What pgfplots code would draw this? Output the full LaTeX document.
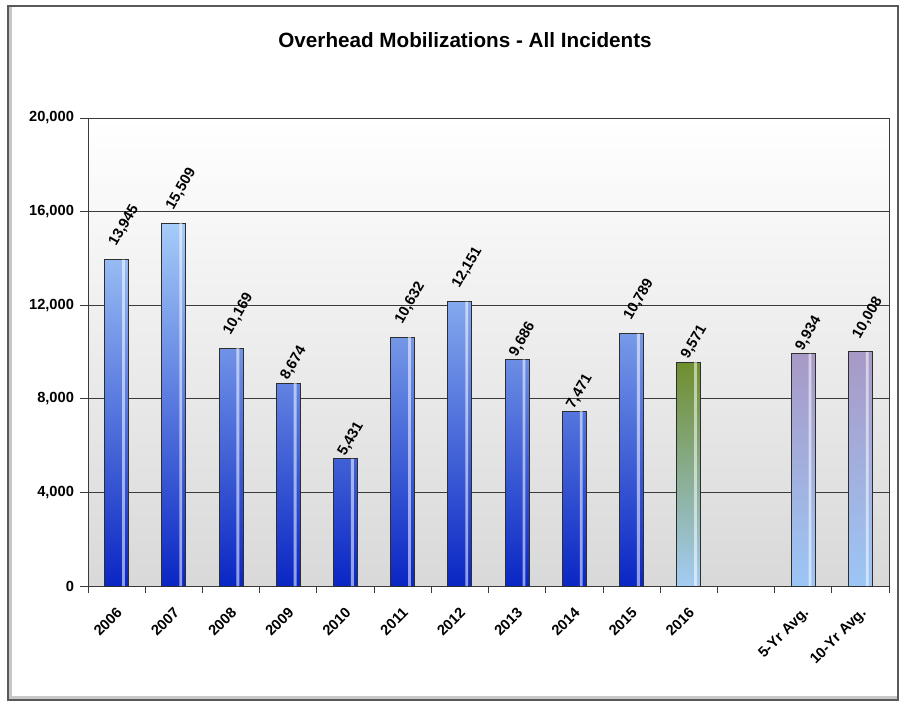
\documentclass[border=0pt]{standalone}
\usepackage{pgfplots}
\pgfplotsset{compat=1.18}
\usepackage{fontspec}
\setmainfont{Liberation Sans}
\definecolor{gridc}{HTML}{3A3A3A}
\definecolor{btop}{HTML}{A6CCF8}
\definecolor{bmid}{HTML}{3F6FE0}
\definecolor{bbot}{HTML}{0A26C4}
\definecolor{gtop}{HTML}{6F8E2E}
\definecolor{gbot}{HTML}{A4CCF4}
\definecolor{ptop}{HTML}{A899C6}
\definecolor{pbot}{HTML}{9CC6F6}
\definecolor{edge}{HTML}{2E2E2E}
\pgfplotstableread{
x y
0 13945
1 15509
2 10169
3 8674
4 5431
5 10632
6 12151
7 9686
8 7471
9 10789
}\years
\pgfplotstableread{
x y
10 9571
}\cur
\pgfplotstableread{
x y
12 9934
13 10008
}\avgs
\pgfplotsset{
  lbl/.style={draw=none, fill=none, bar width=0.42, bar shift=0pt,
    visualization depends on={rawy\as\rawy},
    nodes near coords={\pgfmathprintnumber[fixed,precision=0,1000 sep={,},assume math mode=true]{\pgfplotspointmeta}},
    every node near coord/.append style={font=\bfseries\fontsize{11}{12}\selectfont,
      anchor=west, inner sep=1pt, xshift=-3.5pt,
      yshift={ifthenelse(\rawy>=10000,10,2)*1pt}, rotate=60}},
}
\begin{document}
\begin{tikzpicture}
\useasboundingbox (0,0) rectangle (674.25pt,527.25pt);
\fill[black!22] (6pt,2.25pt) rectangle (673.5pt,522.75pt);
\fill[white] (9pt,5pt) rectangle (673.5pt,522.75pt);
\draw[black!65, line width=0.8pt] (6pt,2.25pt) rectangle (673.5pt,522.75pt);
\node[font=\bfseries\fontsize{15.5}{18}\selectfont] at (348.75pt,497.25pt) {Overhead Mobilizations - All Incidents};
\begin{axis}[
  at={(66pt,87.75pt)}, anchor=south west,
  scale only axis, width=600.75pt, height=351pt,
  ymin=0, ymax=20000, ytick={0,4000,...,20000},
  scaled y ticks=false,
  xmin=-0.5, xmax=13.5,
  xtick={0,1,2,3,4,5,6,7,8,9,10,12,13},
  xticklabels={2006,2007,2008,2009,2010,2011,2012,2013,2014,2015,2016,5-Yr Avg.,10-Yr Avg.},
  minor xtick={-0.5,0.5,...,13.5},
  tick pos=left, tick align=outside,
  major x tick style={draw=none},
  minor x tick style={draw=gridc, line width=0.6pt},
  y tick style={draw=gridc, line width=0.6pt},
  major tick length=6pt, minor tick length=5pt,
  ymajorgrids, major grid style={draw=gridc, line width=0.6pt},
  axis line style={draw=gridc, line width=0.7pt},
  axis background/.style={top color=white, bottom color=black!15},
  /pgf/number format/assume math mode=true,
  /pgf/number format/1000 sep={,},
  tick label style={font=\bfseries\fontsize{11}{12}\selectfont},
  xticklabel style={rotate=45, anchor=north east, inner sep=1pt, xshift=-6pt, yshift=-5pt},
  yticklabel style={xshift=-1pt},
  ybar, bar width=0.42, bar shift=0pt,
  clip=false,
]
\addplot[draw=edge, line width=0.7pt, top color=btop, middle color=bmid, bottom color=bbot] table[x=x,y=y] {\years};
\addplot[draw=edge, line width=0.7pt, top color=gtop, bottom color=gbot] table[x=x,y=y] {\cur};
\addplot[draw=edge, line width=0.7pt, top color=ptop, bottom color=pbot] table[x=x,y=y] {\avgs};
% highlight stripes
\addplot[draw=none, fill=white, fill opacity=0.55, bar width=0.05, bar shift=0.12] table[x=x,y=y] {\years};
\addplot[draw=none, fill=white, fill opacity=0.55, bar width=0.05, bar shift=0.12] table[x=x,y=y] {\cur};
\addplot[draw=none, fill=white, fill opacity=0.55, bar width=0.05, bar shift=0.12] table[x=x,y=y] {\avgs};
% labels
\addplot[lbl] table[x=x,y=y] {\years};
\addplot[lbl] table[x=x,y=y] {\cur};
\addplot[lbl] table[x=x,y=y] {\avgs};
\end{axis}
\end{tikzpicture}
\end{document}
